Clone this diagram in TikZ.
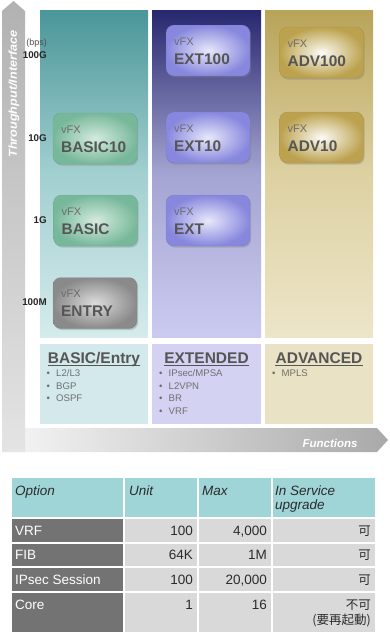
\documentclass[tikz,border=0pt]{standalone}
\usepackage{fontspec}
\setmainfont{Liberation Sans}
\newfontfamily\cjk{Noto Sans CJK JP}
\usetikzlibrary{shadows,calc}
\definecolor{axdark}{HTML}{A9A9A9}
\definecolor{axlight}{HTML}{E4E4E4}
\definecolor{axwhite}{HTML}{F6F6F6}
\definecolor{tealA}{HTML}{4A9698}
\definecolor{tealB}{HTML}{A2CFD0}
\definecolor{tealC}{HTML}{D5EBEC}
\definecolor{navyA}{HTML}{27276F}
\definecolor{navyB}{HTML}{A4A4D2}
\definecolor{navyC}{HTML}{CBCBF1}
\definecolor{goldA}{HTML}{B8A358}
\definecolor{goldB}{HTML}{DDD1A2}
\definecolor{goldC}{HTML}{EDE5C9}
\definecolor{lowT}{HTML}{D3E9EB}
\definecolor{lowN}{HTML}{D4D2F2}
\definecolor{lowG}{HTML}{E9E2C4}
\definecolor{gOut}{HTML}{78B89A}
\definecolor{gIn}{HTML}{D4EBDF}
\definecolor{eOut}{HTML}{8787DE}
\definecolor{eIn}{HTML}{E8E8FA}
\definecolor{aOut}{HTML}{BCA24E}
\definecolor{aIn}{HTML}{FCFBF5}
\definecolor{nOut}{HTML}{8A8A8A}
\definecolor{nIn}{HTML}{DCDCDC}
\definecolor{titlec}{HTML}{555555}
\definecolor{bulc}{HTML}{6E6E6E}
\definecolor{boxtext}{HTML}{555555}
\definecolor{vfxtext}{HTML}{6C6C6C}
\definecolor{hdr}{HTML}{A0D5D8}
\definecolor{darkcell}{HTML}{737373}
\definecolor{lightcell}{HTML}{D9D9D9}
\definecolor{tabtext}{HTML}{2B2B2B}
\tikzset{
  box/.style={rounded corners=8pt, minimum width=84pt, minimum height=51pt, inner sep=0pt, outer sep=0pt,
    drop shadow={shadow xshift=1.2pt, shadow yshift=-1.6pt, opacity=0.35}},
  gbox/.style={box, inner color=gIn, outer color=gOut, draw=gOut!70!black, draw opacity=0.35},
  ebox/.style={box, inner color=eIn, outer color=eOut, draw=eOut!70!black, draw opacity=0.35},
  abox/.style={box, inner color=aIn, outer color=aOut, draw=aOut!70!black, draw opacity=0.35},
  nbox/.style={box, inner color=nIn, outer color=nOut, draw=nOut!70!black, draw opacity=0.35},
  vfxs/.style={inner sep=0pt, anchor=base west, text=vfxtext, font=\fontsize{11}{11}\selectfont},
  vfxl/.style={inner sep=0pt, anchor=base west, text=boxtext, font=\bfseries\fontsize{15.4}{15.4}\selectfont},
  colnode/.style={inner sep=0pt, outer sep=0pt, minimum width=108pt, minimum height=327pt, anchor=north west},
  lownode/.style={inner sep=0pt, outer sep=0pt, minimum width=108pt, minimum height=80pt, anchor=north west},
  ttl/.style={inner sep=0pt, anchor=base, text=titlec, font=\bfseries\fontsize{15.5}{15.5}\selectfont},
  bul/.style={inner sep=0pt, anchor=base west, text=bulc, font=\fontsize{9.6}{9.6}\selectfont},
  axl/.style={inner sep=0pt, anchor=east, text=black!85, font=\bfseries\fontsize{9.8}{9.8}\selectfont},
  tt/.style={inner sep=0pt, text=tabtext, font=\fontsize{13.5}{13.5}\selectfont},
  th/.style={tt, anchor=base west, font=\itshape\fontsize{13.5}{13.5}\selectfont},
  tl/.style={tt, anchor=base west, text=white},
  tr/.style={tt, anchor=base east},
  tc/.style={inner sep=0pt, anchor=base east, text=tabtext, font=\cjk\fontsize{12.5}{12.5}\selectfont},
}
\newcommand\fxbox[5]{%
  \node[#2, anchor=north west] (#1) at (#3,#4) {};
  \node[vfxs] (#1-v) at ($(#1.north west)+(8,20)$) {vFX};
  \node[vfxl] (#1-l) at ($(#1.north west)+(8,39)$) {#5};
}
\newcommand\bline[4]{%
  \node[bul] (#1-d) at (#2,#3) {\textbullet};
  \node[bul] (#1) at (#2+9.5,#3) {#4};
}
\begin{document}
\begin{tikzpicture}[x=1pt,y=-1pt]
\useasboundingbox (0,0) rectangle (389,635);
% axes
\path[left color=axwhite, right color=axdark] (2,428) -- (377,428) -- (388,440) -- (377,452) -- (2,452) -- cycle;
\path[top color=axdark!90, bottom color=axlight] (2,452) -- (2,11) -- (13.5,1) -- (25,11) -- (25,452) -- cycle;
\node[rotate=90, inner sep=0pt, text=white, font=\bfseries\itshape\fontsize{11.5}{11.5}\selectfont, xscale=1.1] (ylab) at (14,94) {Throughput/Interface};
\node[inner sep=0pt, text=white, font=\bfseries\itshape\fontsize{11.5}{11.5}\selectfont] (xlab) at (330,443) {Functions};
% columns
\node[colnode, top color=tealA, bottom color=tealC, middle color=tealB] (colb) at (40,10) {};
\node[colnode, minimum width=109pt, top color=navyA, bottom color=navyC, middle color=navyB] (cole) at (152,10) {};
\node[colnode, top color=goldA, bottom color=goldC, middle color=goldB] (cola) at (265,10) {};
% lower boxes
\node[lownode, fill=lowT] (lowb) at (40,344) {};
\node[lownode, minimum width=109pt, fill=lowN] (lowe) at (152,344) {};
\node[lownode, fill=lowG] (lowa) at (265,344) {};
% titles
\node[ttl] (tb) at (94,363) {BASIC/Entry};
\node[ttl] (te) at (206.5,363) {EXTENDED};
\node[ttl] (ta) at (319,363) {ADVANCED};
\foreach \t in {tb,te,ta}{
  \draw[titlec, line width=1.1pt] ($(\t.base west)+(0,2.8)$) -- ($(\t.base east)+(0,2.8)$);
}
% bullets
\bline{b1}{46.5}{376.5}{L2/L3}
\bline{b2}{46.5}{389}{BGP}
\bline{b3}{46.5}{401.5}{OSPF}
\bline{e1}{159}{376.5}{IPsec/MPSA}
\bline{e2}{159}{389}{L2VPN}
\bline{e3}{159}{401.5}{BR}
\bline{e4}{159}{414}{VRF}
\bline{a1}{272}{376.5}{MPLS}
% axis labels
\node[axl, font=\fontsize{9}{9}\selectfont, text=black!70] (bps) at (47,43.5) {(bps)};
\node[axl] (l100g) at (47,55.5) {100G};
\node[axl] (l10g) at (47,138.5) {10G};
\node[axl] (l1g) at (47,220.5) {1G};
\node[axl] (l100m) at (47,302.5) {100M};
% boxes
\fxbox{bas10}{gbox}{53}{113}{BASIC10}
\fxbox{bas}{gbox}{53.5}{195}{BASIC}
\fxbox{ent}{nbox}{53}{277.5}{ENTRY}
\fxbox{ext100}{ebox}{166}{25}{EXT100}
\fxbox{ext10}{ebox}{166}{112}{EXT10}
\fxbox{ext}{ebox}{166}{195}{EXT}
\fxbox{adv100}{abox}{279.5}{27}{ADV100}
\fxbox{adv10}{abox}{279.5}{112}{ADV10}
% table
\fill[hdr] (12,478) rectangle (123,517);
\fill[hdr] (125,478) rectangle (197,517);
\fill[hdr] (199,478) rectangle (271,517);
\fill[hdr] (273,478) rectangle (375,517);
\foreach \ya/\yb in {519/542, 544/566, 568/591, 593/632}{
  \fill[darkcell] (12,\ya) rectangle (123,\yb);
  \fill[lightcell] (125,\ya) rectangle (197,\yb);
  \fill[lightcell] (199,\ya) rectangle (271,\yb);
  \fill[lightcell] (273,\ya) rectangle (375,\yb);
}
\node[th] (h1) at (15,495) {Option};
\node[th] (h2) at (129,495) {Unit};
\node[th] (h3) at (202,495) {Max};
\node[th] (h4) at (275,495) {In Service};
\node[th] (h4b) at (275,509.5) {upgrade};
\node[tl] (r1) at (15,535) {VRF};
\node[tr] (r1u) at (193,535) {100};
\node[tr] (r1m) at (267,535) {4,000};
\node[tc] (r1s) at (371,535) {可};
\node[tl] (r2) at (15,559.5) {FIB};
\node[tr] (r2u) at (193,559.5) {64K};
\node[tr] (r2m) at (267,559.5) {1M};
\node[tc] (r2s) at (371,559.5) {可};
\node[tl] (r3) at (15,584) {IPsec Session};
\node[tr] (r3u) at (193,584) {100};
\node[tr] (r3m) at (267,584) {20,000};
\node[tc] (r3s) at (371,584) {可};
\node[tl] (r4) at (15,609) {Core};
\node[tr] (r4u) at (193,609) {1};
\node[tr] (r4m) at (267,609) {16};
\node[tc] (r4s) at (371,609) {不可};
\node[tc] (r4t) at (371,624) {(要再起動)};
\end{tikzpicture}
\end{document}
